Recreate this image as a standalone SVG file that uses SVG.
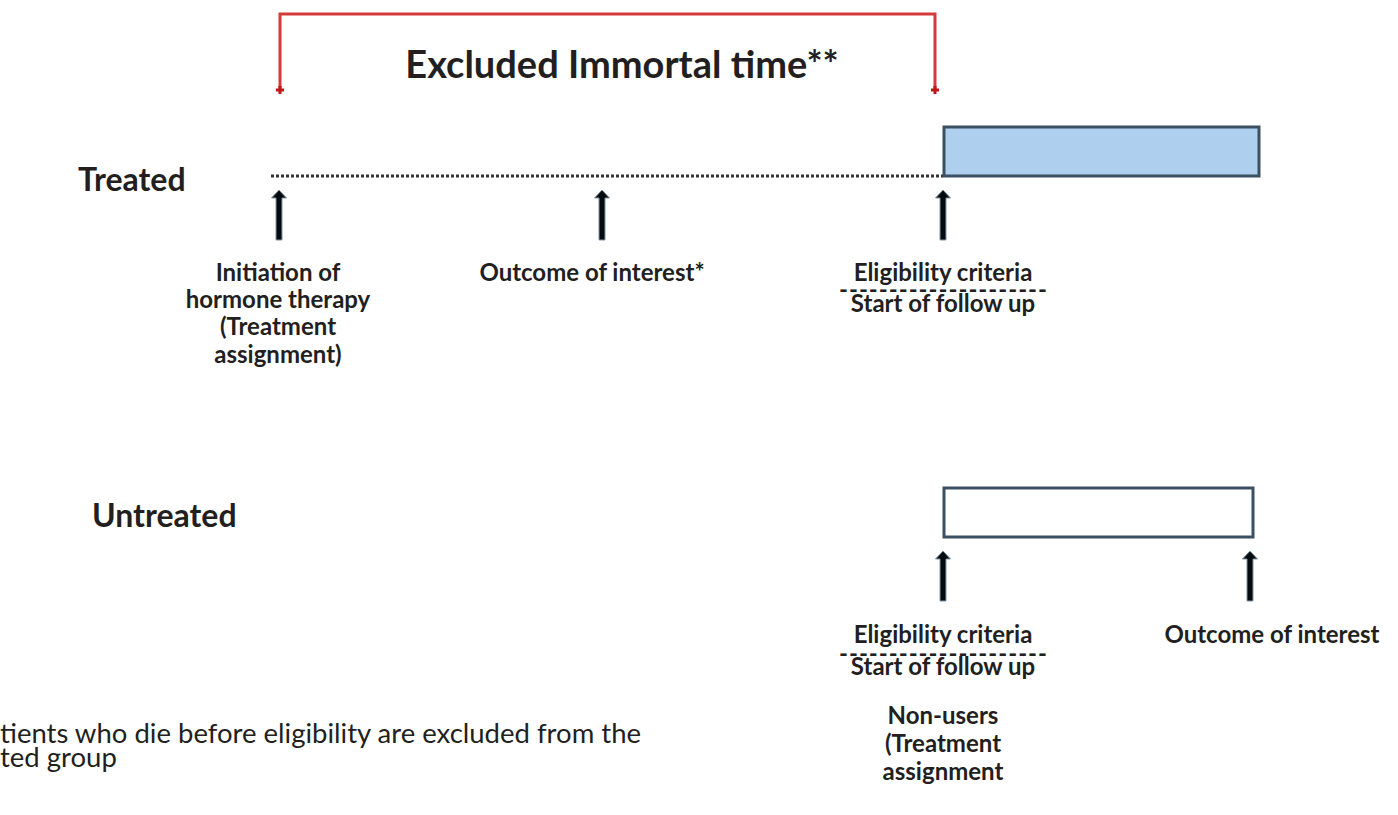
<svg xmlns="http://www.w3.org/2000/svg" width="1398" height="815" viewBox="0 0 1398 815">
<style>
  text { font-family: Lato, "Noto Sans", "Liberation Sans", sans-serif; fill: #231f20; }
  .lbl { font-size: 24px; font-weight: bold; text-anchor: middle; }
  .grp { font-size: 32px; font-weight: bold; }
  .title { font-size: 38px; font-weight: bold; text-anchor: middle; }
  .note { font-size: 27.5px; }
  .bar { stroke: #3b5161; stroke-width: 3; }
  .arrow { fill: #060b10; stroke: #7f97a6; stroke-width: 1; }
  .red { fill: none; stroke: #d43a3a; stroke-width: 3; }
</style>
<defs>
  <polygon id="arr" class="arrow" points="0,0 7.5,8 3,8 3,50 -3,50 -3,8 -7.5,8"/>
</defs>

<g id="connectors">
  <polyline class="red" points="280,90 280,14 935,14 935,90"/>
  <path d="M276,90 H284 M280,86 V94 M931,90 H939 M935,86 V94" stroke="#c01818" stroke-width="3"/>
  <line x1="271" y1="176" x2="943" y2="176" stroke="#333" stroke-width="3" stroke-dasharray="3,2"/>
  <use href="#arr" x="279" y="190"/>
  <use href="#arr" x="602" y="190"/>
  <use href="#arr" x="943" y="190"/>
  <use href="#arr" x="943" y="551"/>
  <use href="#arr" x="1250" y="551"/>
</g>

<g id="title"><text class="title" x="622" y="78">Excluded Immortal time**</text></g>

<g id="treated-label"><text class="grp" x="78" y="191">Treated</text></g>
<g id="untreated-label"><text class="grp" x="92" y="527">Untreated</text></g>

<g id="treated-bar"><rect class="bar" x="944" y="127" width="315" height="49" fill="#aecfed"/></g>
<g id="untreated-bar"><rect class="bar" x="944" y="488" width="309" height="49" fill="#ffffff"/></g>

<g id="initiation">
  <text class="lbl" x="278" y="281">Initiation of</text>
  <text class="lbl" x="278" y="308">hormone therapy</text>
  <text class="lbl" x="278" y="335">(Treatment</text>
  <text class="lbl" x="278" y="363">assignment)</text>
</g>
<g id="outcome-treated"><text class="lbl" x="592" y="281">Outcome of interest*</text></g>
<g id="eligibility-treated">
  <text class="lbl" x="943" y="281">Eligibility criteria</text>
  <text class="lbl" x="943" y="298" textLength="208" lengthAdjust="spacing">---------------------</text>
  <text class="lbl" x="943" y="312">Start of follow up</text>
</g>

<g id="eligibility-untreated">
  <text class="lbl" x="943" y="643">Eligibility criteria</text>
  <text class="lbl" x="943" y="662" textLength="208" lengthAdjust="spacing">---------------------</text>
  <text class="lbl" x="943" y="675">Start of follow up</text>
</g>
<g id="outcome-untreated"><text class="lbl" x="1272" y="643">Outcome of interest</text></g>
<g id="nonusers">
  <text class="lbl" x="943" y="724">Non-users</text>
  <text class="lbl" x="943" y="752">(Treatment</text>
  <text class="lbl" x="943" y="780">assignment</text>
</g>

<g id="footnote">
  <text class="note" x="0" y="743">tients who die before eligibility are excluded from the</text>
  <text class="note" x="0" y="767">ted group</text>
</g>
</svg>
